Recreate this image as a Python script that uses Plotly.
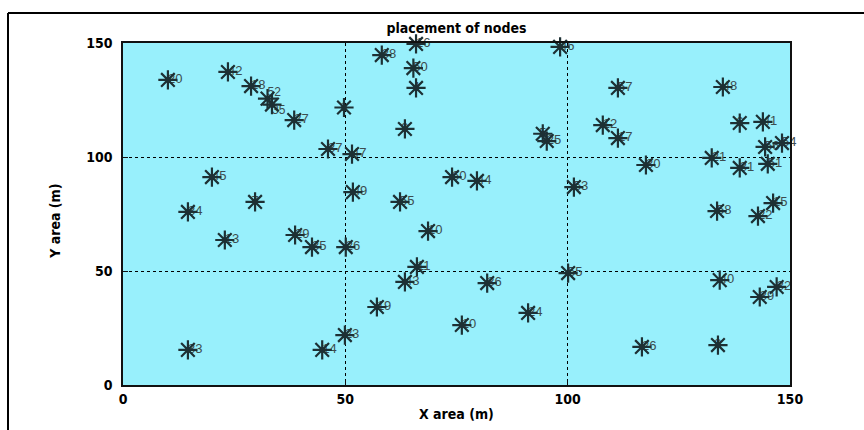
import plotly.graph_objects as go

# node positions (m) and node labels
x_pos = [10.1, 23.6, 28.8, 32.5, 33.5, 38.5, 49.7, 46.1, 51.5, 58.2,
         65.9, 65.3, 65.9, 63.4, 98.3, 94.4, 95.3, 111.3, 107.9, 111.3,
         134.9, 138.7, 143.9, 148.2, 144.4, 132.4, 138.7, 145.0, 117.6, 101.4,
         133.6, 142.8, 146.2, 100.1, 134.2, 147.0, 143.2, 116.7, 133.8, 63.4,
         81.9, 57.1, 91.1, 76.2, 49.9, 44.8, 14.6, 20.0, 14.6, 29.7,
         22.9, 38.7, 42.5, 50.1, 51.7, 74.0, 79.6, 62.3, 68.6, 66.1]
y_pos = [133.8, 137.3, 131.1, 125.6, 123.0, 116.2, 121.7, 103.5, 101.3, 144.7,
         149.6, 139.0, 130.3, 112.3, 148.3, 110.2, 107.0, 130.3, 114.0, 108.3,
         130.7, 114.9, 115.4, 106.1, 104.4, 99.6, 95.2, 97.0, 96.5, 86.8,
         76.3, 74.1, 79.8, 49.1, 46.0, 43.0, 38.6, 16.7, 17.5, 45.2,
         44.7, 34.2, 31.6, 26.3, 21.9, 15.4, 15.4, 91.2, 75.9, 80.3,
         63.6, 65.8, 60.5, 60.5, 84.6, 91.2, 89.5, 80.3, 67.5, 51.8]
labels = ["20", "42", "18", "52", "35", "27", "1", "37", "47", "38",
          "16", "50", "4", "9", "46", "5", "25", "57", "12", "17",
          "48", "6", "41", "54", "56", "21", "31", "51", "30", "53",
          "58", "22", "15", "55", "40", "32", "39", "26", "8", "43",
          "36", "19", "24", "10", "23", "14", "33", "45", "34", "7",
          "13", "29", "35", "26", "49", "60", "44", "55", "10", "11"]

x_ticks = [0, 50, 100, 150]
y_ticks = [0, 50, 100, 150]

FONT = "Liberation Sans Narrow, DejaVu Sans Condensed, Arial, sans-serif"
BG = "#98f0fc"
MK = "#1d3034"

# single-digit labels sit under their marker; two-digit ones start at the marker
text_pos = []
text_size = []
for i, lab in enumerate(labels):
    if len(lab) == 1:
        text_pos.append("middle center")
        text_size.append(13)
    elif i == 3:
        text_pos.append("top right")
        text_size.append(12)
    elif i == 4:
        text_pos.append("bottom right")
        text_size.append(12)
    else:
        text_pos.append("middle right")
        text_size.append(13)

fig = go.Figure()
fig.add_trace(go.Scatter(
    x=x_pos, y=y_pos, text=labels, mode="text",
    textposition=text_pos,
    textfont=dict(family="Arial, Liberation Sans, sans-serif", size=text_size,
                  color="#3c4c4f"),
    cliponaxis=False, hoverinfo="skip", showlegend=False))
fig.add_trace(go.Scatter(
    x=x_pos, y=y_pos, mode="markers",
    marker=dict(symbol="asterisk-open", size=16, color=MK,
                line=dict(width=2.2, color=MK)),
    cliponaxis=False, showlegend=False))

axis_common = dict(
    range=[0, 150], tickvals=x_ticks, showgrid=True, gridcolor="black",
    griddash="dot", gridwidth=1, zeroline=False, showline=True,
    linecolor="#111111", linewidth=1.5, mirror=True, ticks="inside",
    ticklen=5, tickcolor="#111111",
    tickfont=dict(family=FONT, size=14, color="black", weight="bold"))

fig.update_xaxes(**axis_common)
fig.update_yaxes(**axis_common)
fig.update_yaxes(tickvals=y_ticks, ticklabelstandoff=6)
fig.update_xaxes(ticklabelstandoff=0)

fig.update_layout(
    width=864, height=430,
    margin=dict(l=123, r=74, t=43, b=45),
    plot_bgcolor=BG, paper_bgcolor="white",
    title=dict(text="<b>placement of nodes</b>", x=0.5, xanchor="center",
               xref="paper", y=1 - 28 / 430, yanchor="middle",
               font=dict(family=FONT, size=14, color="black")),
    annotations=[
        dict(text="<b>X area (m)</b>", xref="paper", yref="paper",
             x=0.5, y=-0.055, yanchor="top", showarrow=False,
             font=dict(family=FONT, size=14, color="black")),
        dict(text="<b>Y area (m)</b>", xref="paper", yref="paper",
             x=-0.102, y=0.48, xanchor="center", yanchor="middle",
             textangle=-90, showarrow=False,
             font=dict(family=FONT, size=14, color="black")),
    ],
    shapes=[
        dict(type="line", xref="paper", yref="paper",
             x0=-115 / 667, x1=(864 - 123) / 667,
             y0=(385 - 13) / 342, y1=(385 - 13) / 342,
             line=dict(color="black", width=2)),
        dict(type="line", xref="paper", yref="paper",
             x0=-115 / 667, x1=-115 / 667,
             y0=(385 - 13) / 342, y1=-45 / 342,
             line=dict(color="black", width=2)),
    ],
)

fig.write_html("out.html")
